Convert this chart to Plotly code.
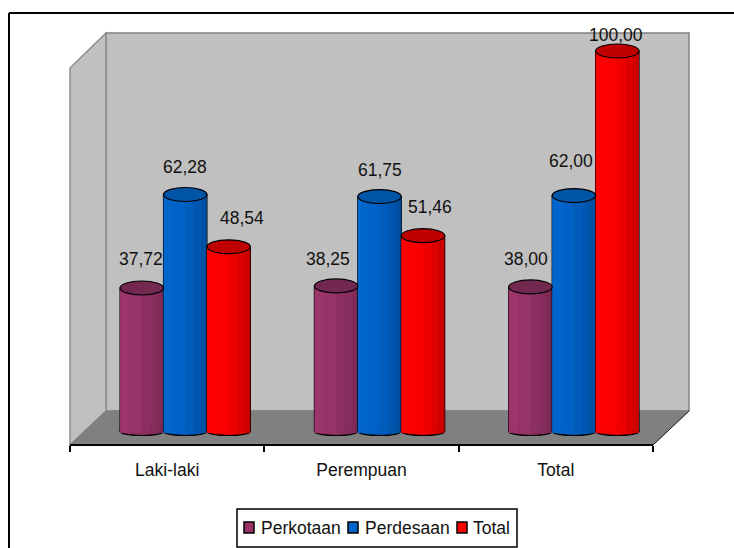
import plotly.graph_objects as go

categories = ["Laki-laki", "Perempuan", "Total"]
series_names = ["Perkotaan", "Perdesaan", "Total"]
perkotaan = [37.72, 38.25, 38.00]
perdesaan = [62.28, 61.75, 62.00]
total = [48.54, 51.46, 100.00]
label_text = [["37,72", "38,25", "38,00"], ["62,28", "61,75", "62,00"], ["48,54", "51,46", "100,00"]]
series_values = [perkotaan, perdesaan, total]

W, H = 734, 548
FONT = "Liberation Sans"
FS = 17.5
px = lambda x: x / W
py = lambda y: 1 - y / H

face = ["#993366", "#0066CC", "#FF0000"]
cap = ["#732850", "#0054A6", "#C00000"]
strips = [
    ["#9C3569", "#963367", "#8C2F60", "#852D5C", "#7E2B58", "#752851"],
    ["#0066CC", "#0062C6", "#005CBA", "#0056AE", "#0051A3", "#004C98"],
    ["#FF0000", "#FA0000", "#EC0000", "#DC0000", "#CE0000", "#BE0000"],
]
bar_w = 0.2235
bar_off = [-0.335, -0.1115, 0.112]
strip_edges = [0, 0.22, 0.5, 0.7, 0.85, 0.95, 1.0]

# axis geometry (pixels): value v sits at y = 431.5 - 3.805 * v
y_top_px, y_bot_px = 13, 447
y0_px, unit = 431.5, 3.805
y_range = [(y0_px - y_bot_px) / unit, (y0_px - y_top_px) / unit]
cap_half = 7 / unit
foot_half = 4 / unit

fig = go.Figure()

# body of every cylinder
for s, vals in enumerate(series_values):
    fig.add_trace(go.Bar(x=categories, y=vals, width=bar_w, offset=bar_off[s], name=series_names[s],
                         marker=dict(color=face[s], line=dict(color="black", width=1.2)),
                         cliponaxis=False, hoverinfo="skip"))
    for k, c in enumerate(strips[s]):
        a, b = strip_edges[k], strip_edges[k + 1]
        fig.add_trace(go.Bar(x=categories, y=[v + 0.4 for v in vals], base=-0.4,
                             width=bar_w * (b - a) - 0.0005 if k == 5 else bar_w * (b - a),
                             offset=bar_off[s] + bar_w * a,
                             marker=dict(color=c, line=dict(width=0)), cliponaxis=False,
                             showlegend=False, hoverinfo="skip"))

# axis that carries the category labels, on the front edge of the floor
fig.add_trace(go.Scatter(x=categories, y=[None] * 3, xaxis="x2", yaxis="y", showlegend=False, hoverinfo="skip"))

shapes = []


def poly(pts, fill, line, lw, layer="below"):
    d = "M " + " L ".join(f"{px(x):.5f} {py(y):.5f}" for x, y in pts) + " Z"
    shapes.append(dict(type="path", xref="paper", yref="paper", path=d, fillcolor=fill,
                       line=dict(color=line, width=lw), layer=layer))


# chart frame (top and left edges run off the picture)
shapes.append(dict(type="line", xref="paper", yref="paper", x0=px(9), x1=1, y0=py(13), y1=py(13),
                   line=dict(color="black", width=2), layer="below"))
shapes.append(dict(type="line", xref="paper", yref="paper", x0=px(9), x1=px(9), y0=py(13), y1=0,
                   line=dict(color="black", width=2), layer="below"))

# walls and floor
poly([(106, 33), (689, 33), (689, 411), (106, 411)], "#C0C0C0", "#808080", 1.5)
poly([(70, 68), (106, 33), (106, 411), (70, 445)], "#C0C0C0", "#8C8C8C", 1.5)
poly([(70, 445), (106, 411), (689, 411), (653, 445)], "#808080", "#808080", 1)
shapes.append(dict(type="line", xref="paper", yref="paper", x0=px(689), x1=px(653), y0=py(411), y1=py(445),
                   line=dict(color="#202020", width=1), layer="below"))

# cylinder ends
for s, vals in enumerate(series_values):
    for i, v in enumerate(vals):
        x0 = i + bar_off[s]
        x1 = x0 + bar_w
        shapes.append(dict(type="circle", xref="x", yref="y", x0=x0, x1=x1, y0=-foot_half, y1=foot_half,
                           fillcolor=strips[s][2], line=dict(color="black", width=1.2), layer="between"))
        shapes.append(dict(type="circle", xref="x", yref="y", x0=x0, x1=x1, y0=v - cap_half, y1=v + cap_half,
                           fillcolor=cap[s], line=dict(color="black", width=1.2), layer="above"))

# data labels
label_dx = [[-1, -8, -4], [0, 0, -3], [13, 7, -1]]
label_dy = [[29, 27, 28], [28, 27, 35], [29, 29, 16]]
annotations = []
for s, vals in enumerate(series_values):
    for i, v in enumerate(vals):
        annotations.append(dict(x=i + bar_off[s] + bar_w / 2, y=v, xref="x", yref="y", text=label_text[s][i],
                                showarrow=False, xanchor="center", yanchor="middle",
                                xshift=label_dx[s][i], yshift=label_dy[s][i],
                                font=dict(family=FONT, size=FS, color="#111111")))

# legend box
shapes.append(dict(type="rect", xref="paper", yref="paper", x0=px(237), x1=px(517), y0=py(509), y1=py(547),
                   fillcolor="white", line=dict(color="black", width=1.5), layer="below"))
swatch_x = [244, 348, 457]
text_x = [260, 364, 472]
for s, name in enumerate(series_names):
    shapes.append(dict(type="rect", xref="paper", yref="paper", x0=px(swatch_x[s]), x1=px(swatch_x[s] + 10),
                       y0=py(522), y1=py(533), fillcolor=face[s], line=dict(color="black", width=1.5), layer="below"))
    annotations.append(dict(x=px(text_x[s]), y=py(528), xref="paper", yref="paper", text=name, showarrow=False,
                            xanchor="left", yanchor="middle", xshift=-1, font=dict(family=FONT, size=FS, color="#111111")))

fig.update_layout(
    width=W, height=H, margin=dict(l=0, r=0, t=0, b=0, pad=0), autosize=False,
    paper_bgcolor="white", plot_bgcolor="rgba(0,0,0,0)", barmode="overlay", showlegend=False,
    shapes=shapes, annotations=annotations, hovermode=False,
    xaxis=dict(domain=[px(88), px(671)], type="category", categoryorder="array", categoryarray=categories,
               range=[-0.5, 2.5], visible=False, fixedrange=True),
    xaxis2=dict(domain=[px(70), px(653)], type="category", categoryorder="array", categoryarray=categories,
                range=[-0.5, 2.5], anchor="free", position=py(445), side="bottom", tickson="boundaries",
                ticks="outside", ticklen=6, tickwidth=1.5, tickcolor="black", showline=True,
                linecolor="black", linewidth=2, showgrid=False, zeroline=False, ticklabelstandoff=9,
                tickfont=dict(family=FONT, size=FS, color="#111111"), fixedrange=True),
    yaxis=dict(domain=[py(y_bot_px), py(y_top_px)], range=y_range, visible=False, fixedrange=True),
)

fig.write_html("out.html", config=dict(displayModeBar=False),
               post_script="document.body.style.margin='0';document.documentElement.style.overflow='hidden';")
